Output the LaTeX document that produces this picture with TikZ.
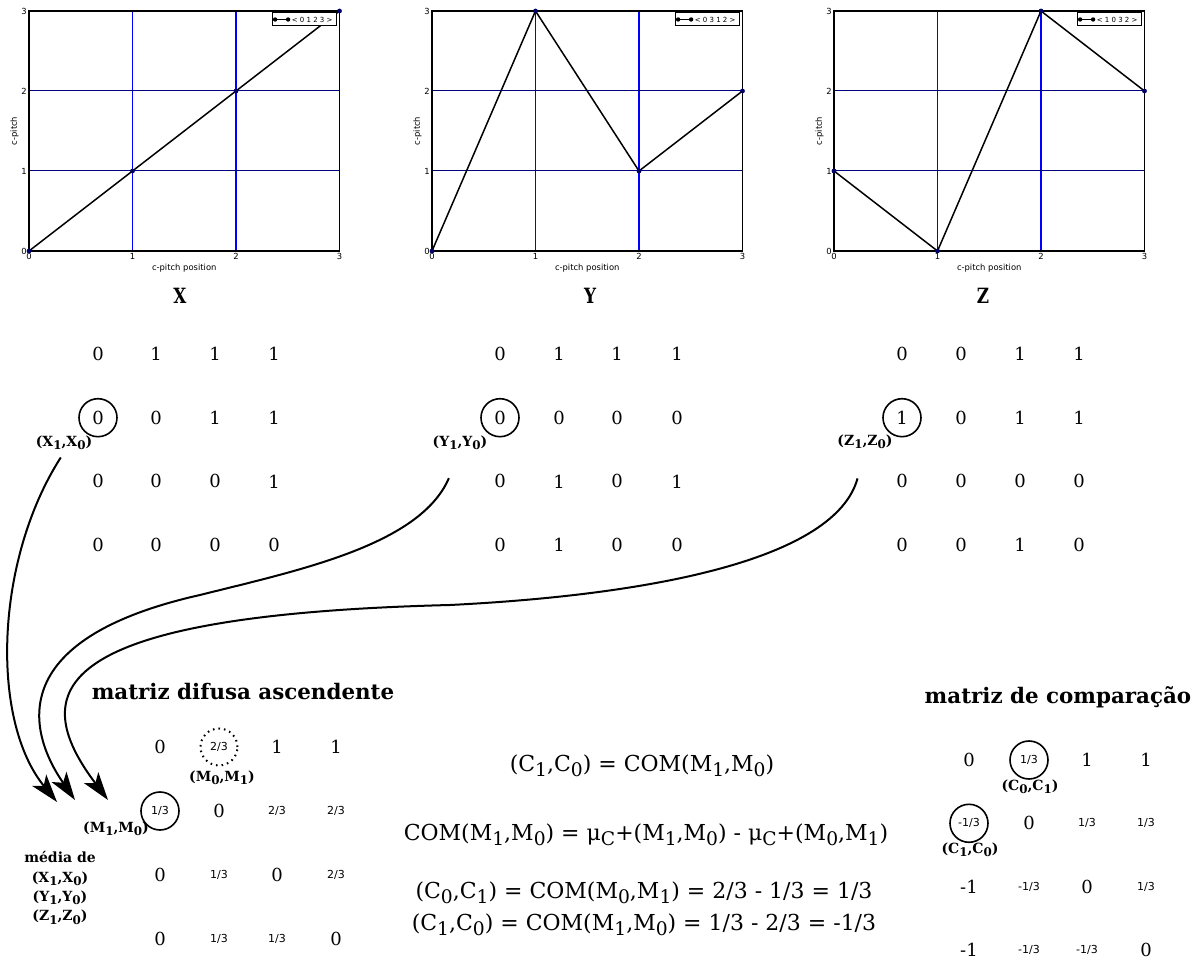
\documentclass[tikz,border=0pt]{standalone}
\usepackage{fontspec}
\usepackage{graphicx}
\usepackage{tikz}
\usetikzlibrary{positioning,arrows.meta}
\setmainfont{DejaVu Serif}
\setsansfont{DejaVu Sans}
\newfontfamily\condserif[FakeStretch=0.8]{DejaVu Serif}
\newcommand{\lo}[1]{\raisebox{-0.45ex}{\scalebox{0.85}{#1}}}
\newcommand{\fracfont}{\sffamily\fontsize{5.5}{6}\selectfont}
\newcommand{\onethird}{{\fracfont 1/3}}
\newcommand{\twothirds}{{\fracfont 2/3}}
\newcommand{\mthird}{{\fracfont -1/3}}

\tikzset{
  num/.style={font=\fontsize{9}{10}\selectfont, inner sep=1pt},
  ring/.style={draw, circle, line width=0.8pt, minimum size=19pt, inner sep=0pt},
  dotring/.style={ring, dotted, line width=1pt, minimum size=18.5pt},
  pairlab/.style={font=\bfseries\fontsize{7}{9.7}\selectfont, inner sep=1pt},
  title/.style={font=\bfseries\fontsize{10.7}{12}\selectfont},
  letter/.style={font=\condserif\bfseries\fontsize{10.5}{12}\selectfont},
  eqn/.style={font=\fontsize{11}{13}\selectfont},
  flow/.style={line width=1pt, -{Stealth[length=14pt,width=9pt,inset=3.5pt]}},
  tick/.style={font=\sffamily\fontsize{4.2}{5}\selectfont, inner sep=1pt},
  legtext/.style={font=\sffamily\fontsize{3.5}{4}\selectfont, inner sep=0pt},
  legbox/.style={draw, fill=white, line width=0.5pt, minimum width=32pt, minimum height=6.5pt, inner sep=0pt},
  gridv/.style={blue, line width=0.6pt},
  gridh/.style={blue!50!black, line width=0.5pt},
  frame/.style={line width=0.7pt},
  pitch/.style={line width=0.75pt},
  dotc/.style={fill=blue!40!black},
}

\begin{document}
\begin{tikzpicture}[x=0.5pt,y=-0.5pt]
  \useasboundingbox (0,0) rectangle (1201,962);

  % contour plots
  \foreach \ox/\tag/\seq/\ya/\yb/\yc/\yd in {29/a/0 1 2 3/0/1/2/3, 432/b/0 3 1 2/0/3/1/2, 834/c/1 0 3 2/1/0/3/2} {
    \begin{scope}[shift={(\ox,251)}, x=51.75pt, y=40pt]
      \draw[gridv] (1,0) -- (1,3) (2,0) -- (2,3);
      \draw[gridh] (0,1) -- (3,1) (0,2) -- (3,2);
      \draw[frame] (0,0) rectangle (3,3);
      \foreach \t in {0,...,3} {
        \node[tick, below] (\tag-x\t) at (\t,0) {\t};
        \node[tick, left] (\tag-y\t) at (0,\t) {\t};
      }
      \node[tick] (\tag-xl) at (1.5,-0.21) {c-pitch position};
      \node[tick, rotate=90] (\tag-yl) at (-0.14,1.5) {c-pitch};
      \draw[pitch] (0,\ya) -- (1,\yb) -- (2,\yc) -- (3,\yd);
      \foreach \k/\v in {0/\ya,1/\yb,2/\yc,3/\yd} \fill[dotc] (\k,\v) circle (1.2pt);
      \node[legbox] (\tag-leg) at (2.657,2.894) {};
      \node[legtext, anchor=east] (\tag-legt) at ([xshift=-1.8pt]\tag-leg.east) {< \seq{} >};
      \draw[pitch] ([xshift=1.8pt]\tag-leg.west) coordinate (\tag-l0) -- ++(6.5pt,0) coordinate (\tag-l1);
      \fill (\tag-l0) circle (1.1pt) (\tag-l1) circle (1.1pt);
    \end{scope}
  }

  \node[letter] (xname) at (180,296) {X};
  \node[letter] (yname) at (590,296) {Y};
  \node[letter] (zname) at (983,296) {Z};

  % binary matrices
  \foreach \r/\a/\b/\c/\d in {0/0/1/1/1, 1/0/0/1/1, 2/0/0/0/1, 3/0/0/0/0} {
    \node[num] (x\r-1) at (98,{354+63.7*\r}) {\a};
    \node[num] (x\r-2) at (156,{354+63.7*\r}) {\b};
    \node[num] (x\r-3) at (215,{354+63.7*\r}) {\c};
    \node[num] (x\r-4) at (274,{354+63.7*\r}) {\d};
  }
  \foreach \r/\a/\b/\c/\d in {0/0/1/1/1, 1/0/0/0/0, 2/0/1/0/1, 3/0/1/0/0} {
    \node[num] (y\r-1) at (500,{354+63.7*\r}) {\a};
    \node[num] (y\r-2) at (559,{354+63.7*\r}) {\b};
    \node[num] (y\r-3) at (617,{354+63.7*\r}) {\c};
    \node[num] (y\r-4) at (677,{354+63.7*\r}) {\d};
  }
  \foreach \r/\a/\b/\c/\d in {0/0/0/1/1, 1/1/0/1/1, 2/0/0/0/0, 3/0/0/1/0} {
    \node[num] (z\r-1) at (902,{354+63.7*\r}) {\a};
    \node[num] (z\r-2) at (961,{354+63.7*\r}) {\b};
    \node[num] (z\r-3) at (1020,{354+63.7*\r}) {\c};
    \node[num] (z\r-4) at (1079,{354+63.7*\r}) {\d};
  }
  \node[ring] (xring) at (x1-1) {};
  \node[ring] (yring) at (y1-1) {};
  \node[ring] (zring) at (z1-1) {};
  \node[pairlab] (xlab) at (64,443) {(X\lo{1},X\lo{0})};
  \node[pairlab] (ylab) at (460,443) {(Y\lo{1},Y\lo{0})};
  \node[pairlab] (zlab) at (865,442) {(Z\lo{1},Z\lo{0})};

  % fuzzy matrix
  \node[title] (mtitle) at (243,692) {matriz difusa ascendente};
  \foreach \r/\a/\b/\c/\d in {0/0/\twothirds/1/1, 1/\onethird/0/\twothirds/\twothirds, 2/0/\onethird/0/\twothirds, 3/0/\onethird/\onethird/0} {
    \node[num] (m\r-1) at (160,{747+64*\r}) {\a};
    \node[num] (m\r-2) at (219,{747+64*\r}) {\b};
    \node[num] (m\r-3) at (277,{747+64*\r}) {\c};
    \node[num] (m\r-4) at (336,{747+64*\r}) {\d};
  }
  \node[dotring] (mring0) at (m0-2) {};
  \node[ring] (mring1) at (m1-1) {};
  \node[pairlab] (m01) at (222,778) {(M\lo{0},M\lo{1})};
  \node[pairlab] (m10) at (116,829) {(M\lo{1},M\lo{0})};
  \node[pairlab, align=center] (mean) at (60,888) {média de\\(X\lo{1},X\lo{0})\\(Y\lo{1},Y\lo{0})\\(Z\lo{1},Z\lo{0})};

  \coordinate (mx) at (57,802);
  \coordinate (my) at (75,800);
  \coordinate (mz) at (108,800);
  \draw[flow, shorten <=3pt] (xlab.south) .. controls (-5,560) and (-10,720) .. (mx);
  \draw[flow, shorten <=14pt] (ylab.south) .. controls (420,545) and (300,570) .. (200,595) .. controls (0,640) and (30,735) .. (my);
  \draw[flow, shorten <=14pt] (zlab.south) .. controls (835,560) and (650,595) .. (450,605) .. controls (50,615) and (25,690) .. (mz);

  % equations
  \node[eqn] (eq1) at (642,766) {(C\lo{1},C\lo{0}) = COM(M\lo{1},M\lo{0})};
  \node[eqn] (eq2) at (646,835) {COM(M\lo{1},M\lo{0}) = μ\lo{C}+(M\lo{1},M\lo{0}) - μ\lo{C}+(M\lo{0},M\lo{1})};
  \node[eqn] (eq3) at (644,893) {(C\lo{0},C\lo{1}) = COM(M\lo{0},M\lo{1}) = 2/3 - 1/3 = 1/3};
  \node[eqn] (eq4) at (644,925) {(C\lo{1},C\lo{0}) = COM(M\lo{1},M\lo{0}) = 1/3 - 2/3 = -1/3};

  % comparison matrix
  \node[title] (ctitle) at (1058,697) {matriz de comparação};
  \foreach \r/\a/\b/\c/\d in {0/0/\onethird/1/1, 1/\mthird/0/\onethird/\onethird, 2/-1/\mthird/0/\onethird, 3/-1/\mthird/\mthird/0} {
    \node[num] (c\r-1) at (969,{760+63.3*\r}) {\a};
    \node[num] (c\r-2) at (1029,{760+63.3*\r}) {\b};
    \node[num] (c\r-3) at (1087,{760+63.3*\r}) {\c};
    \node[num] (c\r-4) at (1146,{760+63.3*\r}) {\d};
  }
  \node[ring] (cring0) at (c0-2) {};
  \node[ring] (cring1) at (c1-1) {};
  \node[pairlab] (c01) at (1030,787) {(C\lo{0},C\lo{1})};
  \node[pairlab] (c10) at (970,850) {(C\lo{1},C\lo{0})};
\end{tikzpicture}
\end{document}
